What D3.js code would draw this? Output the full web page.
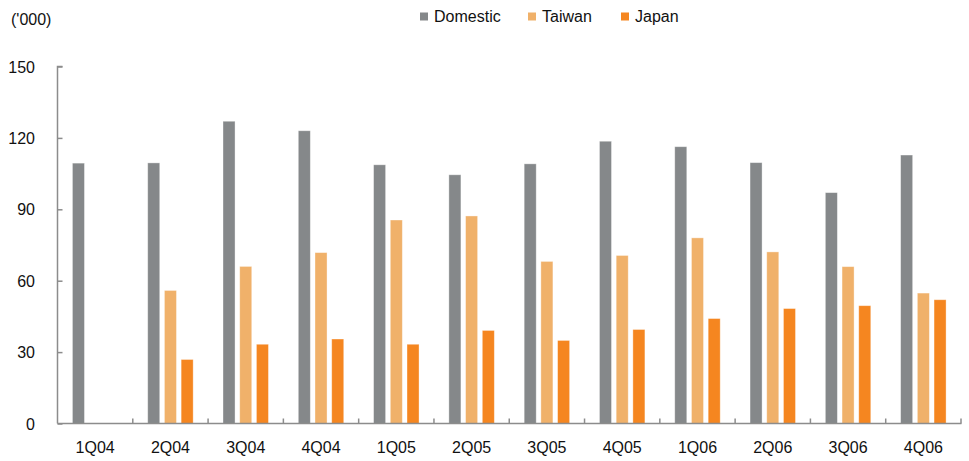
<!DOCTYPE html>
<html>
<head>
<meta charset="utf-8">
<script src="https://cdn.jsdelivr.net/npm/d3@7"></script>
<style>
  html, body { margin: 0; padding: 0; background: #fff; }
  svg { display: block; }
  text { font-family: "Liberation Sans", Arial, sans-serif; fill: #111; }
</style>
</head>
<body>
<svg id="chart" width="969" height="461"></svg>
<script>
const categories = ["1Q04","2Q04","3Q04","4Q04","1Q05","2Q05","3Q05","4Q05","1Q06","2Q06","3Q06","4Q06"];
const seriesNames = ["Domestic","Taiwan","Japan"];
const domestic = [109.4,109.5,127.0,123.0,108.7,104.5,109.1,118.6,116.3,109.6,97.0,112.8];
const taiwan   = [null,55.9,66.0,71.8,85.5,87.2,68.1,70.6,78.0,72.1,65.9,54.8];
const japan    = [null,26.9,33.3,35.5,33.3,39.1,34.9,39.5,44.1,48.3,49.5,52.0];
const yTicks = [0,30,60,90,120,150];
const unitLabel = "('000)";
const colors = ["#85888a","#f0b16a","#f58620"];

const values = [domestic, taiwan, japan];
const svg = d3.select("#chart");

const x0 = d3.scaleBand().domain(categories).range([57.5, 961]).paddingInner(0).paddingOuter(0);
const x1 = d3.scaleBand().domain(seriesNames).range([0, x0.bandwidth()]).paddingInner(0.28).paddingOuter(0.893);
const y = d3.scaleLinear().domain([0,150]).range([423.5, 66.5]);

// bars
const rows = [];
categories.forEach((c, i) => {
  seriesNames.forEach((s, j) => {
    const v = values[j][i];
    if (v != null) rows.push({c, s, v, j});
  });
});
svg.append("g").selectAll("rect").data(rows).join("rect")
  .attr("x", d => x0(d.c) + x1(d.s))
  .attr("width", x1.bandwidth())
  .attr("y", d => y(d.v))
  .attr("height", d => y(0) - y(d.v))
  .attr("fill", d => colors[d.j])
  .attr("stroke", "#ffffff")
  .attr("stroke-opacity", 0.45)
  .attr("stroke-width", 0.8);

// y axis
const yAxis = d3.axisLeft(y).tickValues(yTicks).tickSize(-5).tickPadding(0).tickFormat(d3.format("d"));
const gy = svg.append("g").attr("transform", "translate(57.5,0)").call(yAxis);
gy.select(".domain").attr("stroke", "#8c8c8c").attr("stroke-width", 1.5).attr("d", `M5,${y(150)}H0V${y(0)}`);
gy.selectAll(".tick line").attr("stroke", "#8c8c8c").attr("stroke-width", 1.5);
gy.selectAll(".tick text").attr("x", -22.5).attr("dy", "0.35em")
  .style("font-size", "16px").style("font-family", "'Liberation Sans', Arial, sans-serif").attr("fill", "#111");

// x axis
const gx = svg.append("g").attr("transform", `translate(0,${y(0)})`)
  .call(d3.axisBottom(x0).tickSize(0).tickPadding(0));
gx.select(".domain").attr("stroke", "#8c8c8c").attr("stroke-width", 1.5).attr("d", `M57.5,0H961.5`);
gx.selectAll(".tick text").attr("y", 29).attr("dy", 0)
  .style("font-size", "16px").style("font-family", "'Liberation Sans', Arial, sans-serif").attr("fill", "#111");
// boundary ticks
const boundaries = categories.slice(1).map(c => x0(c)).concat([x0.range()[1]]);
svg.append("g").selectAll("line").data(boundaries).join("line")
  .attr("x1", d => d).attr("x2", d => d)
  .attr("y1", y(0)).attr("y2", y(0) - 5)
  .attr("stroke", "#8c8c8c").attr("stroke-width", 1.5);

// unit label
svg.append("text").attr("x", 11).attr("y", 25).text(unitLabel).style("font-size", "16px");

// legend
const legendX = [420, 528, 621];
const lg = svg.append("g");
seriesNames.forEach((s, j) => {
  lg.append("rect").attr("x", legendX[j]).attr("y", 12.5).attr("width", 8).attr("height", 8).attr("fill", colors[j]);
  lg.append("text").attr("x", legendX[j] + 14).attr("y", 22).text(s).style("font-size", "16px");
});
</script>
</body>
</html>
